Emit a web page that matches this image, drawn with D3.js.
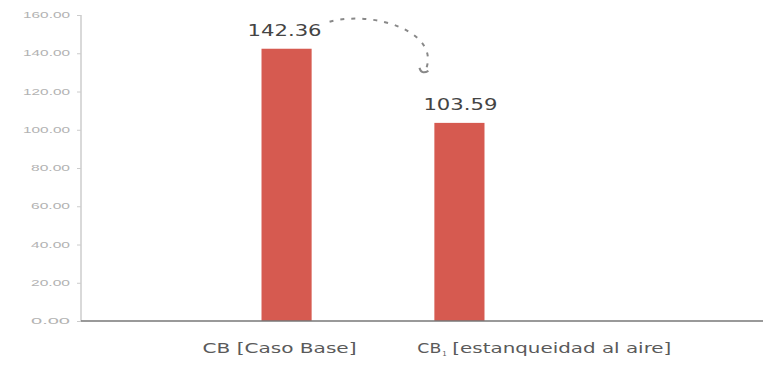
<!DOCTYPE html>
<html>
<head>
<meta charset="utf-8">
<script src="https://cdn.jsdelivr.net/npm/d3@7"></script>
<style>
  body { margin: 0; background: #fff; }
  svg { font-family: "DejaVu Sans", "Liberation Sans", Arial, sans-serif; }
</style>
</head>
<body>
<svg id="chart"></svg>
<script>
// chart data
const categories = ["CB", "CB1"];
const values = [142.36, 103.59];
const valueLabels = ["142.36", "103.59"];
const yTicks = [0, 20, 40, 60, 80, 100, 120, 140, 160];

const width = 765, height = 366;
const svg = d3.select("#chart").attr("width", width).attr("height", height);

const y = d3.scaleLinear().domain([0, 160]).range([321, 15]);
const x = d3.scaleBand().domain(categories).range([201, 545]).paddingInner(0.71).paddingOuter(0.35);

// y axis
const yAxis = d3.axisLeft(y).tickValues(yTicks).tickSize(4).tickFormat(d3.format(".2f"));
const gy = svg.append("g").attr("transform", "translate(81,0)").call(yAxis);
gy.select(".domain").attr("stroke", "#ccc").attr("stroke-width", 1.5).attr("d", "M0,15V321");
gy.selectAll(".tick line").attr("stroke", "#ccc");
gy.selectAll(".tick text")
  .attr("fill", "#b3b3b3")
  .attr("font-size", 8.5)
  .attr("x", -11)
  .attr("textLength", d => d >= 100 ? 47 : 39)
  .attr("lengthAdjust", "spacingAndGlyphs");

// bars
svg.append("g").selectAll("rect")
  .data(values)
  .join("rect")
  .attr("x", (d, i) => x(categories[i]))
  .attr("width", x.bandwidth())
  .attr("y", d => y(d))
  .attr("height", d => y(0) - y(d))
  .attr("fill", "#d65a50");

// value labels
svg.append("g").selectAll("text")
  .data(values)
  .join("text")
  .attr("x", (d, i) => x(categories[i]) + x.bandwidth() / 2 + (i === 0 ? -2 : 1))
  .attr("y", d => y(d) - 13)
  .attr("text-anchor", "middle")
  .attr("font-size", 16)
  .attr("fill", "#444")
  .attr("textLength", 74)
  .attr("lengthAdjust", "spacingAndGlyphs")
  .text((d, i) => valueLabels[i]);

// x axis baseline
svg.append("line")
  .attr("x1", 81).attr("x2", 763)
  .attr("y1", y(0)).attr("y2", y(0))
  .attr("stroke", "#777").attr("stroke-width", 1.5);

// category labels
svg.append("text")
  .attr("x", x("CB") - 59)
  .attr("y", 353)
  .attr("font-size", 14)
  .attr("fill", "#5a5a5a")
  .attr("textLength", 154)
  .attr("lengthAdjust", "spacingAndGlyphs")
  .text("CB [Caso Base]");

svg.append("text")
  .attr("x", x("CB1") - 17)
  .attr("y", 353)
  .attr("font-size", 14)
  .attr("fill", "#5a5a5a")
  .attr("textLength", 24)
  .attr("lengthAdjust", "spacingAndGlyphs")
  .text("CB");
svg.append("text")
  .attr("x", x("CB1") + 8)
  .attr("y", 356)
  .attr("font-size", 7)
  .attr("fill", "#5a5a5a")
  .text("1");
svg.append("text")
  .attr("x", x("CB1") + 18)
  .attr("y", 353)
  .attr("font-size", 14)
  .attr("fill", "#5a5a5a")
  .attr("textLength", 219)
  .attr("lengthAdjust", "spacingAndGlyphs")
  .text("[estanqueidad al aire]");

// dotted arrow from first value to second
const x0 = x("CB") + x.bandwidth() / 2 + 43;
const y0 = y(values[0]) - 27;
const x1 = x("CB1") + x.bandwidth() / 2 - 35;
const y1 = y(values[1]) - 50;
svg.append("path")
  .attr("d", `M${x0},${y0} C${x0 + 45},${y0 - 12} ${x1 + 20},${y1 - 40} ${x1},${y1}`)
  .attr("fill", "none")
  .attr("stroke", "#888")
  .attr("stroke-width", 2)
  .attr("stroke-dasharray", "4,7");
svg.append("path")
  .attr("d", `M${x1 - 5},${y1 - 5} Q${x1 - 3},${y1 + 2} ${x1 + 4},${y1 - 2}`)
  .attr("fill", "none")
  .attr("stroke", "#888")
  .attr("stroke-width", 2);
</script>
</body>
</html>
